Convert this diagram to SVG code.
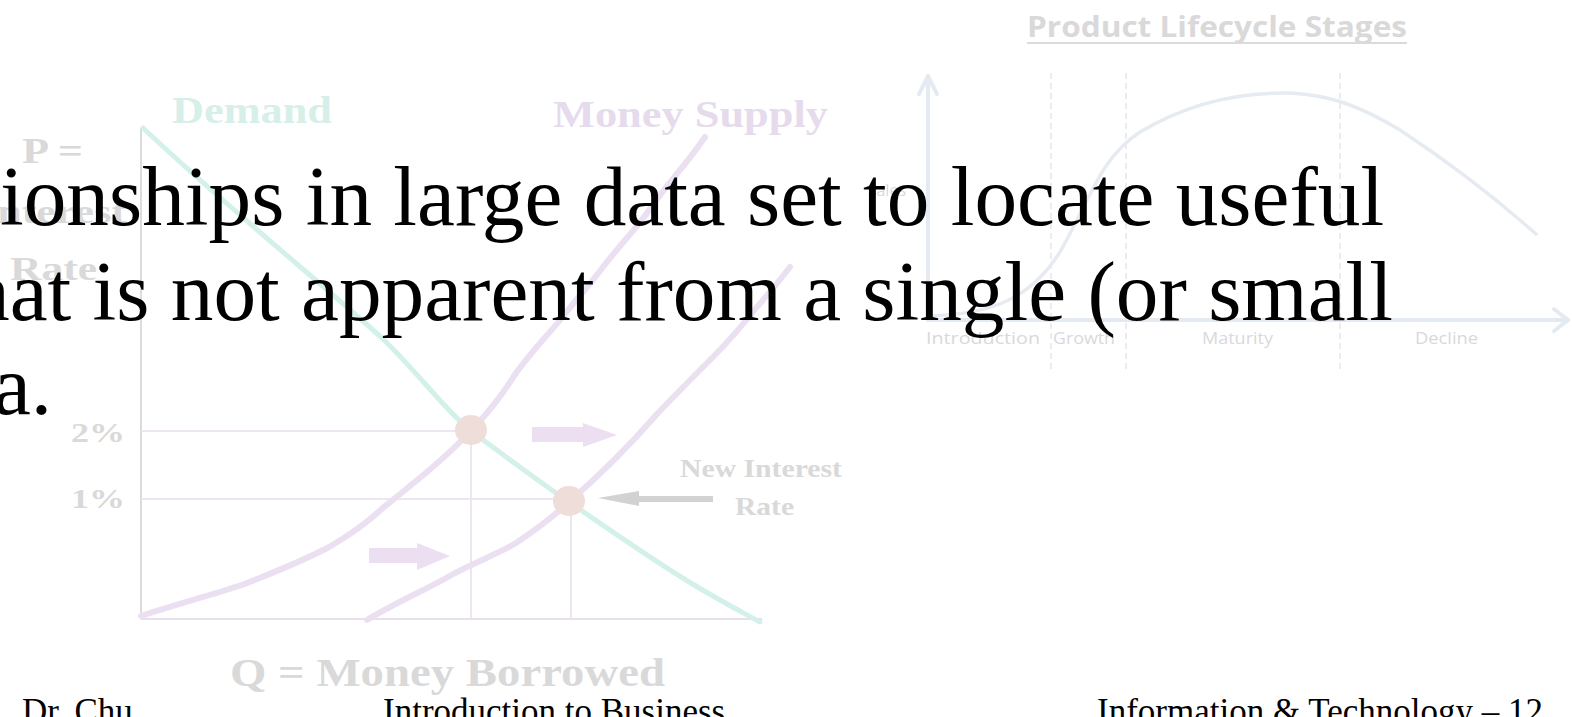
<svg xmlns="http://www.w3.org/2000/svg" width="1573" height="717" viewBox="0 0 1573 717">
<style>
.lbl{font-family:"Liberation Serif","Times New Roman",serif;font-weight:bold}
.gray{fill:#d9d9d9}
.lc{font-family:"Open Sans","DejaVu Sans",sans-serif;fill:#d9d9d9}
.main{font-family:"Liberation Serif","Times New Roman",serif;font-size:85.3px;fill:#000}
.foot{font-family:"Liberation Serif","Times New Roman",serif;font-size:35px;fill:#000}
.dash{stroke:#e6e6e6;stroke-width:1.5;stroke-dasharray:6 4;fill:none}
.grid{stroke:#ede6f1;stroke-width:2;fill:none}
.supply{stroke:#ebe0f2;stroke-width:6;fill:none;stroke-linecap:round}
.pt{fill:#efddd9}
.parrow{fill:#ecdff2}
</style>
<rect x="0" y="0" width="1573" height="717" fill="#ffffff"/>

<g id="money-chart">
  <line x1="141" y1="128" x2="141" y2="619" stroke="#dcdcdc" stroke-width="2"/>
  <line x1="141" y1="619" x2="762" y2="619" stroke="#e8e0ec" stroke-width="2"/>
  <line class="grid" x1="141" y1="431" x2="471" y2="431"/>
  <line class="grid" x1="141" y1="499" x2="569" y2="499"/>
  <line class="grid" x1="471" y1="431" x2="471" y2="619"/>
  <line class="grid" x1="571" y1="499" x2="571" y2="619"/>
  <path d="M 143 128 C 230 210, 330 290, 384 340 C 420 375, 445 410, 471 431 C 510 460, 540 482, 569 502 C 610 530, 650 558, 686 580 C 715 598, 740 611, 760 622" stroke="#d3f1ea" stroke-width="5" fill="none" stroke-linecap="round"/>
  <path class="supply" d="M 141 616 C 190 600, 220 593, 247 583 C 280 570, 305 560, 329 547 C 350 535, 370 520, 384 507 C 420 478, 445 458, 471 431 C 495 405, 505 390, 516 373 C 535 347, 548 335, 560 320 C 580 295, 592 282, 603 267 C 620 245, 635 230, 647 213 C 670 180, 690 160, 705 137"/>
  <path class="supply" d="M 367 620 C 400 600, 430 588, 455 573 C 480 560, 500 553, 516 543 C 540 527, 555 515, 569 502 C 600 475, 630 445, 658 413 C 680 390, 695 375, 713 357 C 730 340, 745 322, 757 307 C 770 292, 780 280, 790 267"/>
  <ellipse class="pt" cx="471" cy="430" rx="16" ry="15"/>
  <ellipse class="pt" cx="569" cy="501" rx="16" ry="15"/>
  <polygon class="parrow" points="532,427 583,427 583,423 617,435 583,447 583,442 532,442"/>
  <polygon class="parrow" points="369,548 417,548 417,543 450,556 417,570 417,563 369,563"/>
  <polygon fill="#d2d2d2" points="598,498 639,491 639,496 713,496 713,502 639,502 639,506"/>
  <text class="lbl" x="172" y="123" font-size="37" fill="#d6efe9" textLength="160" lengthAdjust="spacingAndGlyphs">Demand</text>
  <text class="lbl" x="553" y="127" font-size="37" fill="#e5dbec" textLength="275" lengthAdjust="spacingAndGlyphs">Money Supply</text>
  <text class="lbl gray" x="22" y="163" font-size="35" textLength="61" lengthAdjust="spacingAndGlyphs">P =</text>
  <text class="lbl gray" x="-20" y="223" font-size="34" textLength="146" lengthAdjust="spacingAndGlyphs">Interest</text>
  <text class="lbl gray" x="10" y="280" font-size="34" textLength="87" lengthAdjust="spacingAndGlyphs">Rate</text>
  <text class="lbl gray" x="71" y="442" font-size="28" textLength="54" lengthAdjust="spacingAndGlyphs">2%</text>
  <text class="lbl gray" x="71" y="508" font-size="28" textLength="54" lengthAdjust="spacingAndGlyphs">1%</text>
  <text class="lbl gray" x="680" y="477" font-size="26" textLength="162" lengthAdjust="spacingAndGlyphs">New Interest</text>
  <text class="lbl gray" x="735" y="515" font-size="26" textLength="59" lengthAdjust="spacingAndGlyphs">Rate</text>
  <text class="lbl gray" x="230" y="686" font-size="40" textLength="435" lengthAdjust="spacingAndGlyphs">Q = Money Borrowed</text>
</g>

<g id="lifecycle-chart">
  <text class="lc" x="1027" y="37" font-size="28" font-weight="bold" textLength="380" lengthAdjust="spacingAndGlyphs">Product Lifecycle Stages</text>
  <line x1="1027" y1="43" x2="1407" y2="43" stroke="#dadada" stroke-width="2"/>
  <line class="dash" x1="1051" y1="73" x2="1051" y2="373"/>
  <line class="dash" x1="1126" y1="73" x2="1126" y2="373"/>
  <line class="dash" x1="1340" y1="73" x2="1340" y2="373"/>
  <g stroke="#e4eaf2" stroke-width="4" fill="none" stroke-linecap="round" stroke-linejoin="round">
    <polyline points="928,320 928,76"/>
    <polyline points="919,94 928,76 937,94"/>
    <polyline points="928,320 1568,320"/>
    <polyline points="1554,309 1568,320 1554,331"/>
  </g>
  <path d="M 930 316 C 990 314, 1030 300, 1060 252 C 1090 200, 1100 158, 1140 132 C 1190 102, 1240 92, 1290 93 C 1330 95, 1360 106, 1400 130 C 1450 163, 1500 202, 1536 234" stroke="#e6ebf2" stroke-width="3.5" fill="none" stroke-linecap="round"/>
  <text class="lc" x="906" y="196" font-size="16" text-anchor="end">Sales</text>
  <text class="lc" x="926" y="344" font-size="16" textLength="114" lengthAdjust="spacingAndGlyphs">Introduction</text>
  <text class="lc" x="1053" y="344" font-size="16" textLength="62" lengthAdjust="spacingAndGlyphs">Growth</text>
  <text class="lc" x="1202" y="344" font-size="16" textLength="71" lengthAdjust="spacingAndGlyphs">Maturity</text>
  <text class="lc" x="1415" y="344" font-size="16" textLength="63" lengthAdjust="spacingAndGlyphs">Decline</text>
</g>

<g id="body-text">
  <text class="main" x="0" y="225">ionships in large data set to locate useful</text>
  <text class="main" x="-33" y="319.5">hat is not apparent from a single (or small</text>
  <text class="main" x="-7" y="414">a.</text>
</g>

<g id="footer">
  <text class="foot" x="22" y="723">Dr. Chu</text>
  <text class="foot" x="383" y="723">Introduction to Business</text>
  <text class="foot" x="1097" y="723">Information &amp; Technology – 12</text>
</g>
</svg>
